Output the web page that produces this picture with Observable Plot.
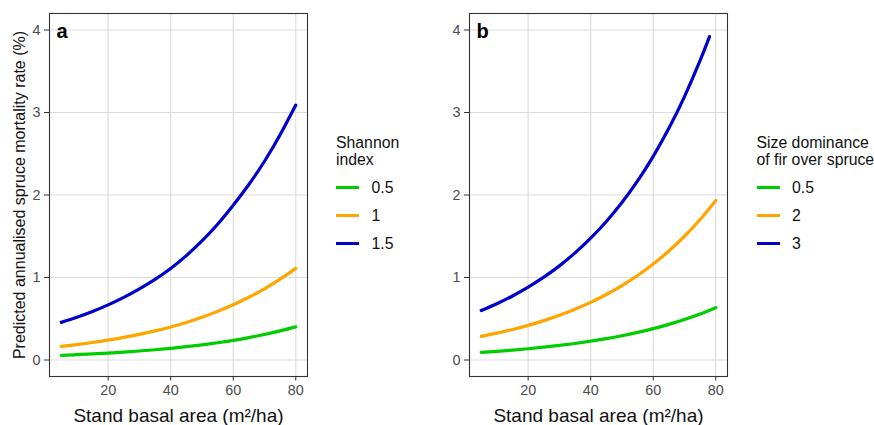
<!DOCTYPE html>
<html>
<head>
<meta charset="utf-8">
<script src="https://cdn.jsdelivr.net/npm/d3@7"></script>
<script src="https://cdn.jsdelivr.net/npm/@observablehq/plot@0.6"></script>
<style>
  html, body { margin: 0; padding: 0; background: #fff; }
  body { font-family: "Liberation Sans", Arial, sans-serif; }
  #root { position: relative; width: 874px; height: 425px; overflow: hidden; }
  .panel { position: absolute; top: 0; }
  .legend { position: absolute; font-size: 15.8px; color: #111; line-height: 17px; white-space: nowrap; }
  .legend .title { margin-bottom: 6.5px; }
  .legend .item { display: flex; align-items: center; height: 27.8px; }
  .legend .key { width: 23px; height: 3px; margin-right: 12.5px; }
</style>
</head>
<body>
<div id="root">
  <div id="pa" class="panel" style="left:0px"></div>
  <div id="pb" class="panel" style="left:440px"></div>
  <div id="la" class="legend" style="left:336px; top:133.5px"></div>
  <div id="lb" class="legend" style="left:756.5px; top:133.5px"></div>
</div>
<script>
// ---- data ----
const basalArea = [5, 10, 15, 20, 25, 30, 35, 40, 45, 50, 55, 60, 65, 70, 75, 80];
const basalAreaBlueB = [5, 10, 15, 20, 25, 30, 35, 40, 45, 50, 55, 60, 65, 70, 75, 78];

// Panel a: Shannon index
const shannonLevels = ["0.5", "1", "1.5"];
const aShannon05 = [0.057, 0.0649, 0.0739, 0.0842, 0.0959, 0.1093, 0.1245, 0.1418, 0.1615, 0.1839, 0.2095, 0.2386, 0.2718, 0.3096, 0.3526, 0.4016];
const aShannon1  = [0.165, 0.1873, 0.2126, 0.2413, 0.2739, 0.3108, 0.3528, 0.4004, 0.4555, 0.5182, 0.5895, 0.6706, 0.7609, 0.8633, 0.9795, 1.111];
const aShannon15 = [0.456, 0.518, 0.588, 0.668, 0.759, 0.862, 0.978, 1.110, 1.265, 1.443, 1.646, 1.877, 2.127, 2.409, 2.730, 3.090];

// Panel b: size dominance of fir over spruce
const dominanceLevels = ["0.5", "2", "3"];
const bDom05 = [0.093, 0.1057, 0.1201, 0.1365, 0.1552, 0.1763, 0.2004, 0.2278, 0.2589, 0.2942, 0.3344, 0.3800, 0.4319, 0.4909, 0.5579, 0.634];
const bDom2  = [0.287, 0.326, 0.370, 0.420, 0.477, 0.542, 0.616, 0.699, 0.794, 0.902, 1.024, 1.163, 1.321, 1.500, 1.703, 1.934];
const bDom3  = [0.600, 0.682, 0.776, 0.883, 1.004, 1.141, 1.298, 1.476, 1.679, 1.909, 2.171, 2.469, 2.808, 3.193, 3.631, 3.920];

const seriesColors = ["#00CD00", "#FFA500", "#0000CD"];
const yTicks = [0, 1, 2, 3, 4];
const xTicks = [20, 40, 60, 80];

// ---- build tables ----
function rows(level, xs, ys) { return ys.map((v, i) => ({x: xs[i], y: v, level})); }
const dataA = [
  ...rows("0.5", basalArea, aShannon05),
  ...rows("1", basalArea, aShannon1),
  ...rows("1.5", basalArea, aShannon15)
];
const dataB = [
  ...rows("0.5", basalArea, bDom05),
  ...rows("2", basalArea, bDom2),
  ...rows("3", basalAreaBlueB, bDom3)
];

const FONT = '"Liberation Sans", Arial, sans-serif';

function panel(data, levels, tag, opts) {
  const marks = [
    Plot.gridX(xTicks, {stroke: "#dcdcdc", strokeOpacity: 1, strokeWidth: 1.1}),
    Plot.gridY(yTicks, {stroke: "#dcdcdc", strokeOpacity: 1, strokeWidth: 1.1}),
    Plot.line(data, {x: "x", y: "y", z: "level", stroke: "level", strokeWidth: 3.2, curve: "natural"}),
    Plot.frame({stroke: "#333", strokeWidth: 1.1}),
    Plot.axisX(xTicks, {tickSize: 4.5, tickPadding: 4, fontSize: 14.4, color: "#4d4d4d", stroke: "#333", label: null, tickFormat: d => String(d)}),
    Plot.axisY(yTicks, {tickSize: 5, tickPadding: 4, fontSize: 14.4, color: "#4d4d4d", stroke: "#333", label: null, tickFormat: d => String(d)}),
    Plot.text([tag], {frameAnchor: "top-left", lineAnchor: "middle", dx: 7, dy: 18, fontSize: 20, fontWeight: "bold", fill: "#000"}),
    Plot.text(["Stand basal area (m²/ha)"], {frameAnchor: "bottom", lineAnchor: "middle", dy: 39, fontSize: 19, fill: "#111"})
  ];
  if (opts.yLabel) {
    marks.push(Plot.text([opts.yLabel], {frameAnchor: "left", textAnchor: "middle", lineAnchor: "middle", dx: -30, rotate: -90, fontSize: 16, fill: "#111"}));
  }
  return Plot.plot({
    width: opts.width,
    height: 425,
    marginLeft: opts.marginLeft,
    marginRight: opts.marginRight,
    marginTop: 13,
    marginBottom: 49,
    style: {fontFamily: FONT, background: "transparent", overflow: "visible"},
    x: {domain: [1.25, 83.75]},
    y: {domain: [-0.2, 4.2]},
    color: {domain: levels, range: seriesColors},
    marks
  });
}

document.getElementById("pa").append(panel(dataA, shannonLevels, "a", {
  width: 320, marginLeft: 49, marginRight: 13,
  yLabel: "Predicted annualised spruce mortality rate (%)"
}));
document.getElementById("pb").append(panel(dataB, dominanceLevels, "b", {
  width: 300, marginLeft: 29, marginRight: 13
}));

function legend(el, titleLines, levels) {
  const t = document.createElement("div");
  t.className = "title";
  t.innerHTML = titleLines.join("<br>");
  el.append(t);
  levels.forEach((lv, i) => {
    const it = document.createElement("div");
    it.className = "item";
    const k = document.createElement("div");
    k.className = "key";
    k.style.background = seriesColors[i];
    const s = document.createElement("span");
    s.textContent = lv;
    it.append(k, s);
    el.append(it);
  });
}
legend(document.getElementById("la"), ["Shannon", "index"], shannonLevels);
legend(document.getElementById("lb"), ["Size dominance", "of fir over spruce"], dominanceLevels);
</script>
</body>
</html>
